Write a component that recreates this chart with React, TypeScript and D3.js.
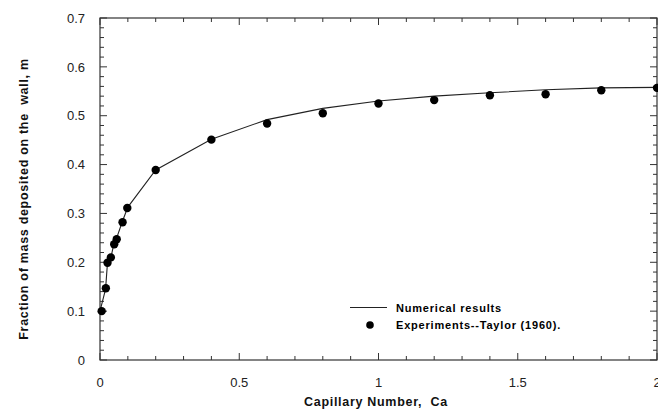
import React, { useEffect, useRef } from 'react'
import * as d3 from 'd3'

// Capillary number of each experiment (Taylor 1960)
const expCa = [0.006, 0.021, 0.027, 0.039, 0.051, 0.06, 0.081, 0.098, 0.2, 0.4, 0.6, 0.8, 1.0, 1.2, 1.4, 1.6, 1.8, 2.0]
const expM = [0.1, 0.147, 0.199, 0.21, 0.237, 0.247, 0.282, 0.311, 0.389, 0.451, 0.484, 0.505, 0.525, 0.532, 0.542, 0.544, 0.552, 0.557]

// numerical results
const numCa = [0.0, 0.02, 0.027, 0.04, 0.05, 0.06, 0.08, 0.1, 0.2, 0.4, 0.6, 0.8, 1.0, 1.2, 1.4, 1.6, 1.8, 2.0]
const numM = [0.1, 0.145, 0.2, 0.212, 0.238, 0.25, 0.283, 0.313, 0.389, 0.452, 0.492, 0.515, 0.53, 0.54, 0.547, 0.553, 0.557, 0.558]

const xTicks = [0, 0.5, 1, 1.5, 2]
const yTicks = [0, 0.1, 0.2, 0.3, 0.4, 0.5, 0.6, 0.7]

const W = 658
const H = 419

function App() {
    const ref = useRef<SVGSVGElement>(null)

    useEffect(() => {
        const svg = d3.select(ref.current)
        svg.selectAll('*').remove()

        const margin = { top: 18, right: 1, bottom: 59, left: 100 }
        const x = d3.scaleLinear().domain([0, 2]).range([margin.left, W - margin.right])
        const y = d3.scaleLinear().domain([0, 0.7]).range([H - margin.bottom, margin.top])
        const axisColor = '#333'
        const font = 'Arial, "Liberation Sans", Helvetica, sans-serif'

        // frame
        svg.append('rect')
            .attr('x', x(0)).attr('y', y(0.7))
            .attr('width', x(2) - x(0)).attr('height', y(0) - y(0.7))
            .attr('fill', 'none').attr('stroke', axisColor).attr('stroke-width', 1.2)

        // minor + major ticks, all pointing inward
        const xMinor = d3.range(0, 2.001, 0.1)
        const yMinor = d3.range(0, 0.7001, 0.02)
        const isMajor = (v: number, step: number) => Math.abs(v / step - Math.round(v / step)) < 1e-6

        const ticks = svg.append('g').attr('stroke', axisColor).attr('stroke-width', 1)
        xMinor.forEach(v => {
            const len = isMajor(v, 0.5) ? 7 : 4
            ticks.append('line').attr('x1', x(v)).attr('x2', x(v)).attr('y1', y(0)).attr('y2', y(0) - len)
            ticks.append('line').attr('x1', x(v)).attr('x2', x(v)).attr('y1', y(0.7)).attr('y2', y(0.7) + len)
        })
        yMinor.forEach(v => {
            const len = isMajor(v, 0.1) ? 7 : 4
            ticks.append('line').attr('y1', y(v)).attr('y2', y(v)).attr('x1', x(0)).attr('x2', x(0) + len)
            ticks.append('line').attr('y1', y(v)).attr('y2', y(v)).attr('x1', x(2)).attr('x2', x(2) - len)
        })

        // tick labels
        svg.append('g').selectAll('text')
            .data(xTicks)
            .join('text')
            .attr('x', d => x(d))
            .attr('y', y(0) + 27)
            .attr('text-anchor', 'middle')
            .attr('font-family', font)
            .attr('font-size', 13)
            .attr('fill', '#222')
            .text(d => d3.format('~g')(d))

        svg.append('g').selectAll('text')
            .data(yTicks)
            .join('text')
            .attr('x', x(0) - 15)
            .attr('y', d => y(d))
            .attr('dy', '0.36em')
            .attr('text-anchor', 'end')
            .attr('font-family', font)
            .attr('font-size', 13)
            .attr('fill', '#222')
            .text(d => d3.format('~g')(d))

        // axis titles
        svg.append('text')
            .attr('x', 376)
            .attr('y', 406)
            .attr('text-anchor', 'middle')
            .attr('font-family', font)
            .attr('font-weight', 'bold')
            .attr('font-size', 12.5)
            .attr('letter-spacing', 0.7)
            .attr('fill', '#111')
            .style('white-space', 'pre')
            .text('Capillary Number,  Ca')

        svg.append('text')
            .attr('transform', `translate(28, 199) rotate(-90)`)
            .attr('text-anchor', 'middle')
            .attr('font-family', font)
            .attr('font-weight', 'bold')
            .attr('font-size', 12.5)
            .attr('letter-spacing', 0.7)
            .attr('fill', '#111')
            .style('white-space', 'pre')
            .text('Fraction of mass deposited on the  wall, m')

        // numerical line
        const line = d3.line<number>()
            .x((_, i) => x(numCa[i]))
            .y(d => y(d))
        svg.append('path')
            .datum(numM)
            .attr('d', line)
            .attr('fill', 'none')
            .attr('stroke', '#222')
            .attr('stroke-width', 1.1)

        // experiments
        svg.append('g').selectAll('circle')
            .data(expM)
            .join('circle')
            .attr('cx', (_, i) => x(expCa[i]))
            .attr('cy', d => y(d))
            .attr('r', 4.2)
            .attr('fill', '#000')

        // legend
        const lg = svg.append('g')
            .attr('font-family', font)
            .attr('font-weight', 'bold')
            .attr('font-size', 11)
            .attr('letter-spacing', 0.8)
            .attr('fill', '#000')
        lg.append('line')
            .attr('x1', 350).attr('x2', 387).attr('y1', 307.5).attr('y2', 307.5)
            .attr('stroke', '#222').attr('stroke-width', 1.1)
        lg.append('text').attr('x', 396).attr('y', 311.5).text('Numerical results')
        lg.append('circle').attr('cx', 370).attr('cy', 325).attr('r', 3.8).attr('fill', '#000')
        lg.append('text').attr('x', 396).attr('y', 328.5).text('Experiments--Taylor (1960).')
    }, [])

    return (
        <svg ref={ref} width={W} height={H}
            style={{ position: 'absolute', left: 0, top: 0, background: '#fff', display: 'block' }} />
    )
}

export default App
